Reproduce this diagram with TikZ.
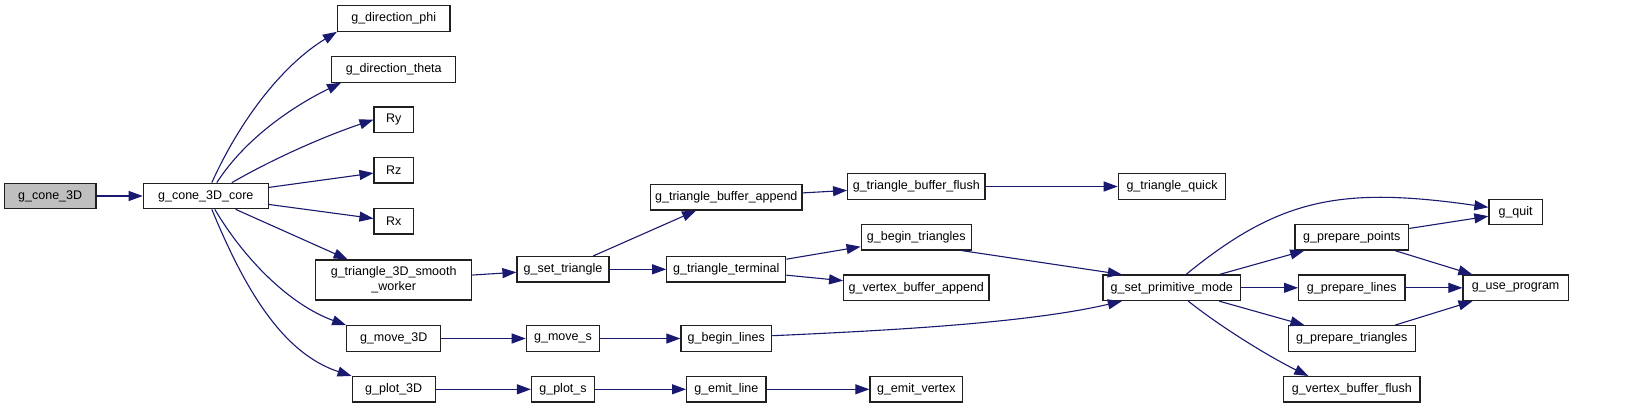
\documentclass[tikz,border=0pt]{standalone}
\usepackage{fontspec}
\setmainfont{Liberation Sans}
\usetikzlibrary{arrows.meta}
\definecolor{edgeblue}{HTML}{191970}
\definecolor{curgray}{HTML}{BFBFBF}
\definecolor{boxline}{HTML}{202020}
\begin{document}
\begin{tikzpicture}[x=1pt,y=-1pt,
  fn/.style={draw=boxline, line width=1.2pt, fill=white, inner sep=0pt,
    font=\fontsize{12.5}{15}\selectfont, minimum height=25.5pt, anchor=center},
  edge/.style={draw=edgeblue, line width=1.1pt, -{Triangle[length=14pt,width=10pt]}},
]
\fill[white] (0,0) rectangle (1629,408);
\useasboundingbox (0,0) rectangle (1629,408);

% column 0-1
\node[fn, fill=curgray, minimum width=91.7pt] (cone3D) at (50.2,196) {g\_cone\_3D};
\node[fn, minimum width=125pt] (core) at (205.8,196) {g\_cone\_3D\_core};
% column 2
\node[fn, minimum width=112.5pt] (phi) at (393.7,18.5) {g\_direction\_phi};
\node[fn, minimum width=124.1pt] (theta) at (393.7,69.4) {g\_direction\_theta};
\node[fn, minimum width=39.3pt] (Ry) at (393.7,119.7) {Ry};
\node[fn, minimum width=39.3pt] (Rz) at (393.7,170.3) {Rz};
\node[fn, minimum width=39.3pt] (Rx) at (393.7,221.2) {Rx};
\node[fn, minimum width=156.3pt, minimum height=40pt, align=center] (smooth) at (393.7,280) {g\_triangle\_3D\_smooth\\\_worker};
\node[fn, minimum width=93.9pt] (move3D) at (393.7,338.5) {g\_move\_3D};
\node[fn, minimum width=83.1pt] (plot3D) at (393.7,389.3) {g\_plot\_3D};
% column 3
\node[fn, minimum width=92pt] (settri) at (563,269.3) {g\_set\_triangle};
\node[fn, minimum width=73.4pt] (moves) at (563,338.5) {g\_move\_s};
\node[fn, minimum width=63pt] (plots) at (563,389.3) {g\_plot\_s};
% column 4
\node[fn, minimum width=151.3pt] (tba) at (726.3,197.2) {g\_triangle\_buffer\_append};
\node[fn, minimum width=119pt] (tterm) at (726.3,269.3) {g\_triangle\_terminal};
\node[fn, minimum width=90.7pt] (blines) at (726.3,338.5) {g\_begin\_lines};
\node[fn, minimum width=79.3pt] (eline) at (726.3,389.3) {g\_emit\_line};
% column 5
\node[fn, minimum width=137.3pt] (tbf) at (916.3,186.5) {g\_triangle\_buffer\_flush};
\node[fn, minimum width=110.3pt] (btri) at (916.3,237.3) {g\_begin\_triangles};
\node[fn, minimum width=145.3pt] (vba) at (916.3,287.8) {g\_vertex\_buffer\_append};
\node[fn, minimum width=92.7pt] (evertex) at (916.3,389.3) {g\_emit\_vertex};
% column 6
\node[fn, minimum width=107.4pt] (tquick) at (1172,186.5) {g\_triangle\_quick};
\node[fn, minimum width=137.7pt] (spm) at (1171.8,287.8) {g\_set\_primitive\_mode};
% column 7
\node[fn, minimum width=113.7pt] (ppoints) at (1351.8,237.3) {g\_prepare\_points};
\node[fn, minimum width=106.3pt] (plines) at (1351.8,287.8) {g\_prepare\_lines};
\node[fn, minimum width=126.6pt] (ptri) at (1351.8,338.5) {g\_prepare\_triangles};
\node[fn, minimum width=136.3pt] (vbf) at (1351.8,389.3) {g\_vertex\_buffer\_flush};
% column 8
\node[fn, minimum width=53.3pt] (quit) at (1515.6,212) {g\_quit};
\node[fn, minimum width=105.3pt] (useprog) at (1515.6,287.8) {g\_use\_program};

% edges
\draw[edge] (cone3D) -- (core);
\draw[edge] ([shift={(6,0)}]core.north) .. controls +(27.1,-60.1) and +(-56.1,34.3) .. (phi.south west);
\draw[edge] ([shift={(11,0)}]core.north) .. controls +(28.6,-44.5) and +(-47.7,23.3) .. ([shift={(10,0)}]theta.south west);
\draw[edge] ([shift={(26,0)}]core.north) .. controls +(43.3,-25) and +(-47.5,16) .. (Ry.west);
\draw[edge] (core) -- (Rz);
\draw[edge] (core) -- (Rx);
\draw[edge] (core) -- (smooth);
\draw[edge] ([shift={(9,0)}]core.south) .. controls +(30.6,51.6) and +(-55.4,-20) .. (move3D.north west);
\draw[edge] ([shift={(6,0)}]core.south) .. controls +(32.3,78) and +(-70,-23) .. (plot3D.north west);

\draw[edge] (smooth) -- (settri);
\draw[edge] (settri) -- (tba);
\draw[edge] (settri) -- (tterm);
\draw[edge] (tba) -- (tbf);
\draw[edge] (tbf) -- (tquick);
\draw[edge] (tterm) -- (btri);
\draw[edge] (tterm) -- (vba);
\draw[edge] (move3D) -- (moves);
\draw[edge] (moves) -- (blines);
\draw[edge] (plot3D) -- (plots);
\draw[edge] (plots) -- (eline);
\draw[edge] (eline) -- (evertex);

\draw[edge] ([shift={(-10,0)}]btri.south east) -- ([shift={(-50,0)}]spm.north);
\draw[edge] ([shift={(0,-2.8)}]blines.east) .. controls +(128.3,-5.7) and +(-91.7,21.3) .. ([shift={(-50,0)}]spm.south);
\draw[edge] ([shift={(14.2,0)}]spm.north) .. controls +(93,-75.8) and +(-148.5,-21.3) .. ([shift={(0,-4.7)}]quit.west);
\draw[edge] (spm) -- (ppoints);
\draw[edge] (spm) -- (plines);
\draw[edge] (spm) -- (ptri);
\draw[edge] ([shift={(16.5,0)}]spm.south) .. controls +(35.1,27.9) and +(-36,-17.6) .. ([shift={(-43.5,0)}]vbf.north);
\draw[edge] (ppoints) -- (quit);
\draw[edge] (ppoints) -- (useprog);
\draw[edge] (plines) -- (useprog);
\draw[edge] (ptri) -- (useprog);
\end{tikzpicture}
\end{document}
